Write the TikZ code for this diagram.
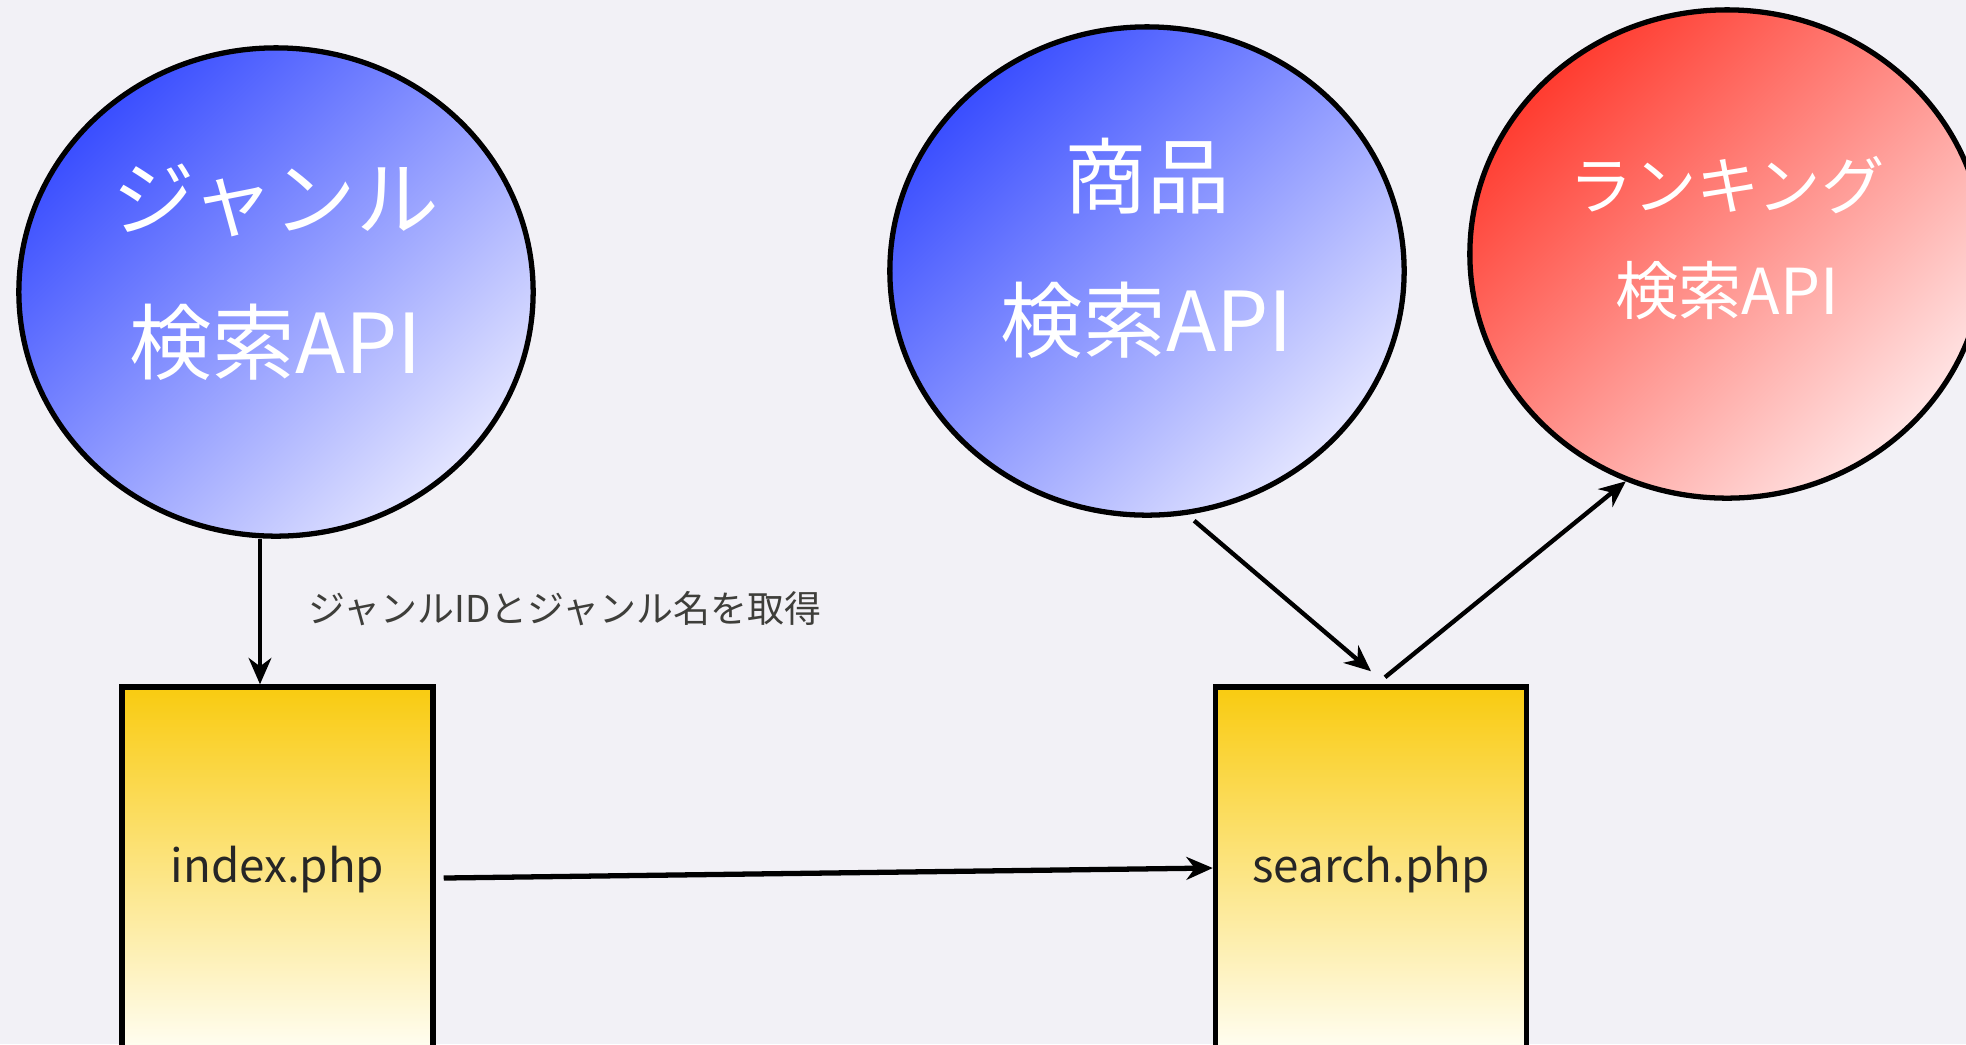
\documentclass[tikz,border=0pt]{standalone}
\usepackage{fontspec}
\setmainfont{Noto Sans CJK JP}
\usetikzlibrary{shapes.geometric,arrows.meta,positioning}
\definecolor{bgpaper}{RGB}{242,241,246}
\definecolor{apiblue}{RGB}{58,78,255}
\definecolor{apibluelight}{RGB}{226,228,255}
\definecolor{apired}{RGB}{255,60,48}
\definecolor{apiredlight}{RGB}{255,228,228}
\definecolor{phpyellow}{RGB}{249,203,16}
\definecolor{phpyellowlight}{RGB}{255,254,244}
\definecolor{notegray}{RGB}{62,62,58}
\begin{document}
\begin{tikzpicture}[x=0.01cm, y=-0.01cm,
    api/.style={ellipse, draw=black, line width=1.5pt, minimum width=5.14cm, minimum height=4.88cm, inner sep=0pt},
    bluefill/.style={top color=apiblue, bottom color=apibluelight, shading angle=45},
    redfill/.style={top color=apired, bottom color=apiredlight, shading angle=45},
    apitext/.style={text=white, align=center, inner sep=0pt},
    phpbox/.style={rectangle, draw=black, line width=1.5pt, minimum width=3.11cm, minimum height=3.66cm, top color=phpyellow, bottom color=phpyellowlight, inner sep=0pt},
    phptext/.style={text=black!85, font=\fontsize{13}{15}\selectfont, inner sep=0pt},
    flow/.style={-{Stealth[length=7.5pt, width=6.5pt, inset=2.4pt]}, line width=1.25pt},
    note/.style={text=notegray, font=\fontsize{10.5}{12}\selectfont, inner sep=0pt, anchor=west}]

    % Canvas
    \useasboundingbox (0,0) rectangle (1966,1044);
    \clip (0,0) rectangle (1966,1044);
    \fill[bgpaper] (0,0) rectangle (1966,1044);

    % API ellipses
    \node[api, bluefill] (genre) at (276,292) {};
    \node[api, bluefill] (item) at (1147,271) {};
    \node[api, redfill] (ranking) at (1727,254) {};

    \node[apitext, font=\fontsize{23.5}{41}\selectfont] (genretext) at ([yshift=0.2cm]genre.center) {ジャンル\\検索API};
    \node[apitext, font=\fontsize{23.5}{41}\selectfont] (itemtext) at ([yshift=0.23cm]item.center) {商品\\検索API};
    \node[apitext, font=\fontsize{18}{29.9}\selectfont] (rankingtext) at ([yshift=0.16cm]ranking.center) {ランキング\\検索API};

    % PHP pages
    \node[phpbox] (index) at (277.5,870) {};
    \node[phptext] (indextext) at (index.center) {index.php};
    \node[phpbox] (search) at (1371,870) {};
    \node[phptext] (searchtext) at (search.center) {search.php};

    % Connectors
    \coordinate (genreout) at ([xshift=-0.16cm]genre.south);
    \draw[flow, line width=1pt] (genreout) -- (genreout |- index.north)
        node[note, pos=0.48, right=0.47cm] (getgenre) {ジャンルIDとジャンル名を取得};
    \draw[flow, line width=1.5pt] ([xshift=0.08cm, yshift=-0.08cm]index.east) -- ([yshift=0.02cm]search.west);
    \draw[flow] ([yshift=-0.07cm]item.-79) -- ([yshift=0.13cm]search.north);
    \draw[flow] ([xshift=0.14cm, yshift=0.07cm]search.north) -- (ranking.-114);
\end{tikzpicture}
\end{document}
